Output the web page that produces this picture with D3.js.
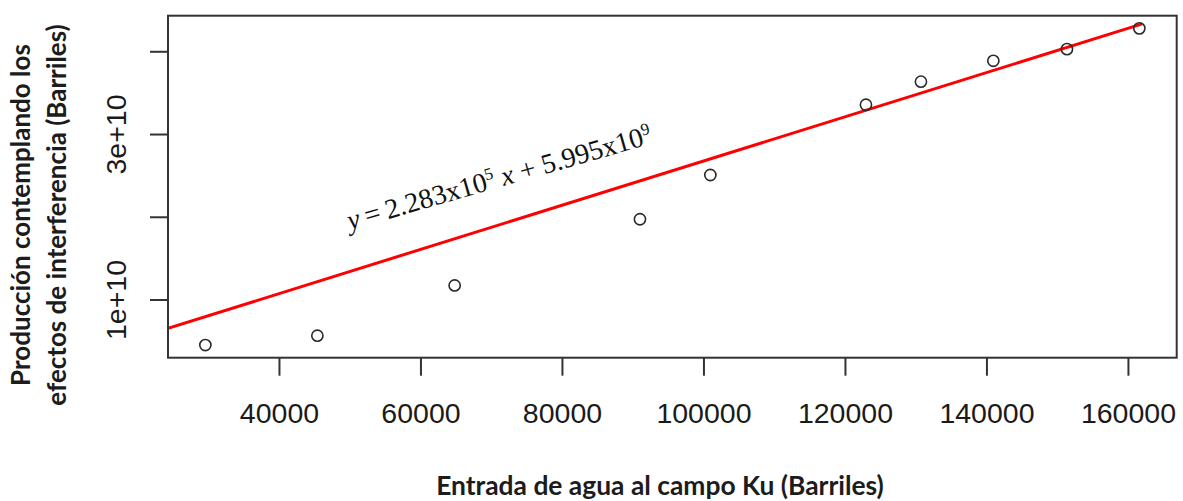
<!DOCTYPE html>
<html>
<head>
<meta charset="utf-8">
<script src="https://cdn.jsdelivr.net/npm/d3@7"></script>
<style>
  html, body { margin: 0; padding: 0; background: #fff; }
  svg { display: block; }
</style>
</head>
<body>
<svg id="chart" width="1183" height="501"></svg>
<script>
'use strict';

// water inflow to the Ku field (barrels) vs production with interference effects (barrels)
const entradaAgua = [29597, 45428, 64834, 91025, 100975, 122968, 130742, 140975, 151378, 161611];
const produccion = [0.450e10, 0.563e10, 1.170e10, 1.970e10, 2.505e10, 3.354e10, 3.633e10, 3.885e10, 4.026e10, 4.277e10];

// red line as drawn on the plot
const lineSlope = 2.672e5;
const lineIntercept = 2.1e7;

const xTickValues = [40000, 60000, 80000, 100000, 120000, 140000, 160000];
const xTickLabels = ["40000", "60000", "80000", "100000", "120000", "140000", "160000"];
const yTickValues = [1e10, 2e10, 3e10, 4e10];
const yTickLabels = ["1e+10", "", "3e+10", ""];

const xTitle = "Entrada de agua al campo Ku (Barriles)";
const yTitleLines = ["Producción contemplando los", "efectos de interferencia (Barriles)"];

let svg = d3.select("#chart");

let box = {left: 168, top: 15.7, right: 1176.7, bottom: 357.7};

// R style axis range: data extent padded by 4% each side
let padRange = function(values) {
  let e = d3.extent(values);
  let p = (e[1] - e[0]) * 0.04;
  return [e[0] - p, e[1] + p];
};

let x = d3.scaleLinear().domain(padRange(entradaAgua)).range([box.left, box.right]);
let y = d3.scaleLinear().domain(padRange(produccion)).range([box.bottom, box.top]);

// x axis
let xAxis = d3.axisBottom(x)
  .tickValues(xTickValues)
  .tickFormat((d, i) => xTickLabels[i])
  .tickSizeInner(18)
  .tickSizeOuter(0)
  .tickPadding(27);

let gx = svg.append("g")
  .attr("transform", "translate(0," + box.bottom + ")")
  .call(xAxis);
gx.select(".domain").remove();
gx.selectAll(".tick line").attr("stroke", "#333").attr("stroke-width", 2);
gx.selectAll(".tick text")
  .attr("fill", "#1a1a1a")
  .style("font-family", "'Liberation Sans', Arial, sans-serif")
  .style("font-size", "28.5px");

// y axis, labels rotated like R's default las=0
let yAxis = d3.axisLeft(y)
  .tickValues(yTickValues)
  .tickFormat((d, i) => yTickLabels[i])
  .tickSizeInner(18)
  .tickSizeOuter(0);

let gy = svg.append("g")
  .attr("transform", "translate(" + box.left + ",0)")
  .call(yAxis);
gy.select(".domain").remove();
gy.selectAll(".tick line").attr("stroke", "#333").attr("stroke-width", 2);
gy.selectAll(".tick text")
  .attr("x", null).attr("dy", null)
  .attr("text-anchor", "middle")
  .attr("transform", "translate(-42,0) rotate(-90)")
  .attr("fill", "#1a1a1a")
  .style("font-family", "'Liberation Sans', Arial, sans-serif")
  .style("font-size", "28.5px");

// clip for the fitted line
svg.append("clipPath").attr("id", "plotClip")
  .append("rect")
  .attr("x", box.left).attr("y", box.top)
  .attr("width", box.right - box.left).attr("height", box.bottom - box.top);

// line runs from the left edge of the plot up to the last point
let x0 = x.domain()[0], x1 = d3.max(entradaAgua) + 400;
svg.append("line")
  .attr("clip-path", "url(#plotClip)")
  .attr("x1", x(x0)).attr("y1", y(lineSlope * x0 + lineIntercept))
  .attr("x2", x(x1)).attr("y2", y(lineSlope * x1 + lineIntercept))
  .attr("stroke", "#f00")
  .attr("stroke-width", 3);

// points
svg.append("g")
  .selectAll("circle")
  .data(entradaAgua)
  .enter().append("circle")
  .attr("cx", d => x(d))
  .attr("cy", (d, i) => y(produccion[i]))
  .attr("r", 5.6)
  .attr("fill", "none")
  .attr("stroke", "#2a2a2a")
  .attr("stroke-width", 1.6);

// plot box
svg.append("rect")
  .attr("x", box.left).attr("y", box.top)
  .attr("width", box.right - box.left).attr("height", box.bottom - box.top)
  .attr("fill", "none")
  .attr("stroke", "#333")
  .attr("stroke-width", 2);

// equation label
let eq = svg.append("text")
  .attr("transform", "translate(350,230) rotate(-16)")
  .attr("fill", "#111")
  .style("font-family", "'Liberation Serif', 'Times New Roman', serif")
  .style("font-size", "28px");
eq.append("tspan").style("font-style", "italic").text("y");
eq.append("tspan").text("\u2009=\u20092.283x10");
eq.append("tspan").attr("dy", -10).style("font-size", "17px").text("5");
eq.append("tspan").attr("dy", 10).text(" ");
eq.append("tspan").style("font-style", "italic").text("x");
eq.append("tspan").text(" + 5.995x10");
eq.append("tspan").attr("dy", -10).style("font-size", "17px").text("9");

// axis titles
svg.append("text")
  .attr("x", 660).attr("y", 495)
  .attr("text-anchor", "middle")
  .attr("fill", "#1c1c1c")
  .style("font-family", "Lato, sans-serif")
  .style("font-weight", "bold")
  .style("font-size", "26.4px")
  .text(xTitle);

svg.append("g")
  .selectAll("text")
  .data(yTitleLines)
  .enter().append("text")
  .attr("transform", (d, i) => "translate(" + (30 + i * 36) + ",215) rotate(-90)")
  .attr("text-anchor", "middle")
  .attr("fill", "#1c1c1c")
  .style("font-family", "Lato, sans-serif")
  .style("font-weight", "bold")
  .style("font-size", "26px")
  .text(d => d);
</script>
</body>
</html>
